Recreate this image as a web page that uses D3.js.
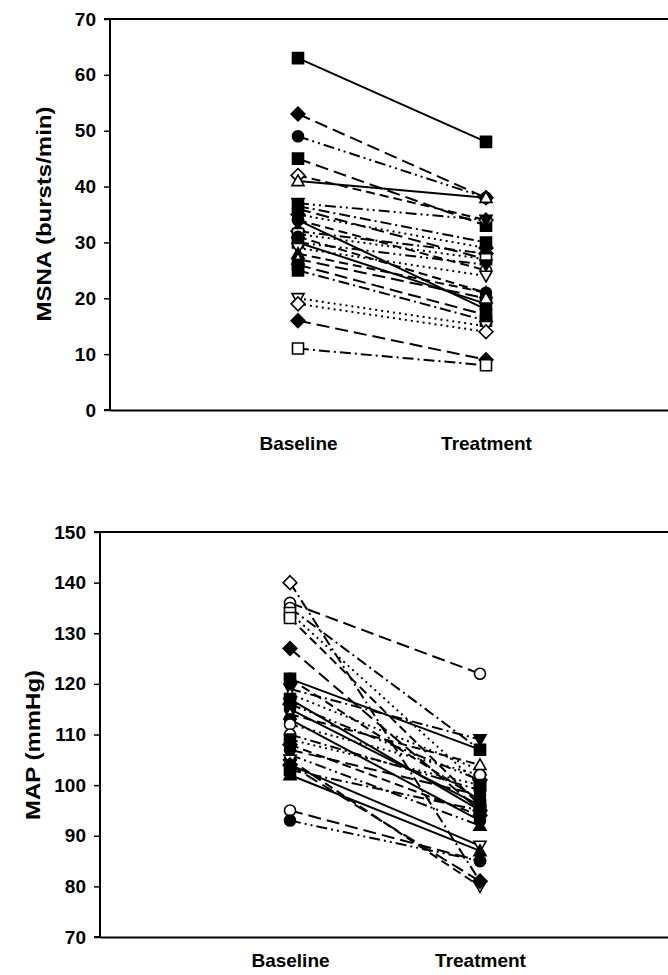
<!DOCTYPE html>
<html><head><meta charset="utf-8">
<script src="https://cdn.jsdelivr.net/npm/d3@7"></script>
<style>
html,body{margin:0;padding:0;background:#fff;}
svg{display:block;font-family:"Liberation Sans",Arial,sans-serif;}
</style></head>
<body><svg id="c" width="668" height="975"></svg>
<script>
// ---- data ----
const categories = ["Baseline", "Treatment"];
const msnaTicks = [0,10,20,30,40,50,60,70];
const mapTicks = [70,80,90,100,110,120,130,140,150];

const msnaBaseline  = [63,53,49,45,42,41,37,36.5,36,35,34,34,32,31.5,31,30,30,29,28,27,26,25,20,19,16,11];
const msnaTreatment = [48,38,38,33,34,38,34,30,27,29,25,18,28,27,21,26,19,24,21,20,17,16,15,14,9,8];
const msnaSymbols   = ["sqF","diaF","cirF","sqF","diaO","triO","triDF","sqF","cirF","diaF","cirO","cirF","diaF","sqO","cirF","triDF","sqF","triDO","triF","triO","sqF","sqF","triDO","diaO","diaF","sqO"];
const msnaDashes    = ["solid","long","dashdotdot","long","dash","solid","dashdotdot","dashdot","long","dotted","dash","solid","dashdot","dotted","dash","dashdotdot","solid","dotted","dash","long","long","dashdot","dotted","dotted","long","dashdot"];

const mapBaseline  = [140,136,135,134,133,127,121,121,119,118,117,116,115,114,113,112,110,109,108,107,106,105,104,104,103,102,95,93];
const mapTreatment = [81,122,107,100,96,95,107,97,109,103,95,101,96,104,93,102,99,100,94,98,92,80,88,81,95,87,85,85];
const mapSymbols   = ["diaO","cirO","cirO","sqO","sqO","diaF","sqF","cirF","triDF","triO","sqF","diaF","cirF","triO","cirF","cirO","cirO","sqF","diaF","cirF","triF","triDO","triDO","diaF","sqF","triF","cirO","cirF"];
const mapDashes    = ["dashdot","long","dashdot","dotted","dash","long","solid","dash","dashdot","dotted","solid","dashdotdot","solid","dash","solid","dotted","dashdot","dotted","dash","long","dashdotdot","dash","solid","long","dashdot","solid","long","dashdotdot"];

// ---- styles ----
const dashMap = {solid:null, long:"13,6", dash:"9,5", dashdot:"11,4,2,4", dashdotdot:"11,4,2,4,2,4", dotted:"2,4"};
const R = 5.5;
function symbolPath(t){
  const k=t.replace(/[FO]$/,"");
  if(k==="sq") return `M${-R},${-R}H${R}V${R}H${-R}Z`;
  if(k==="dia") return `M0,${-R*1.25}L${R*1.25},0L0,${R*1.25}L${-R*1.25},0Z`;
  if(k==="cir") return d3.symbol(d3.symbolCircle, Math.PI*R*R)();
  if(k==="tri") return `M0,${-R*1.1}L${R*1.1},${R*0.85}L${-R*1.1},${R*0.85}Z`;
  if(k==="triD") return `M0,${R*1.1}L${R*1.1},${-R*0.85}L${-R*1.1},${-R*0.85}Z`;
}

const svg = d3.select("#c");

function panel(cfg){
  const {axisX, top, bottom, spacing, domain, ticks, base, treat, syms, dashes, title, labelX, labelCY, labelLen, xPad} = cfg;
  const x = d3.scaleLinear().domain([0,3]).range([axisX, axisX+3*spacing]);
  const y = d3.scaleLinear().domain(domain).range([bottom, top]);
  const g = svg.append("g");

  g.append("line").attr("x1",axisX).attr("x2",x(3)).attr("y1",top).attr("y2",top).attr("stroke","#000").attr("stroke-width",2);
  const yAxis = d3.axisLeft(y).tickValues(ticks).tickSize(6).tickPadding(8).tickFormat(d3.format("d"));
  const ya = g.append("g").attr("transform",`translate(${axisX},0)`).call(yAxis);
  ya.select(".domain").attr("stroke-width",2).attr("d",`M${-6},${bottom}H0V${top}H-6`);
  ya.selectAll(".tick line").attr("stroke-width",1.5);
  ya.selectAll("text").attr("font-size",19).attr("font-weight","bold").attr("font-family","Liberation Sans, Arial, sans-serif").attr("fill","#000");

  const xAxis = d3.axisBottom(x).tickValues([1,2]).tickSize(0).tickSizeOuter(0).tickPadding(xPad).tickFormat(d=>categories[d-1]);
  const xa = g.append("g").attr("transform",`translate(0,${bottom})`).call(xAxis);
  xa.select(".domain").attr("stroke-width",2);
  xa.selectAll("text").attr("font-size",19).attr("font-weight","bold").attr("font-family","Liberation Sans, Arial, sans-serif").attr("fill","#000");

  g.append("text").attr("transform",`translate(${labelX},${labelCY}) rotate(-90)`)
    .attr("text-anchor","middle").attr("font-size",20).attr("font-weight","bold")
    .attr("textLength",labelLen).attr("lengthAdjust","spacingAndGlyphs").text(title);

  const data = base.map((b,i)=>({b, t:treat[i], s:syms[i], d:dashes[i]}));
  const lines = g.append("g");
  data.forEach(p=>{
    lines.append("line").attr("x1",x(1)).attr("y1",y(p.b)).attr("x2",x(2)).attr("y2",y(p.t))
      .attr("stroke","#000").attr("stroke-width",2)
      .attr("stroke-dasharray",dashMap[p.d]);
  });
  const marks = g.append("g");
  data.forEach(p=>{
    [[1,p.b],[2,p.t]].forEach(([c,v])=>{
      marks.append("path").attr("d",symbolPath(p.s))
        .attr("transform",`translate(${x(c)},${y(v)})`)
        .attr("fill", p.s.endsWith("F") ? "#000" : "#fff")
        .attr("stroke","#000").attr("stroke-width",1.6);
    });
  });
}

panel({axisX:110, top:19, bottom:410, spacing:188, domain:[0,70], ticks:msnaTicks,
  base:msnaBaseline, treat:msnaTreatment, syms:msnaSymbols, dashes:msnaDashes,
  title:"MSNA (bursts/min)", labelX:51, labelCY:214, labelLen:215, xPad:27});
panel({axisX:100, top:532, bottom:937, spacing:190, domain:[70,150], ticks:mapTicks,
  base:mapBaseline, treat:mapTreatment, syms:mapSymbols, dashes:mapDashes,
  title:"MAP (mmHg)", labelX:40, labelCY:745, labelLen:150, xPad:17});
</script></body></html>
